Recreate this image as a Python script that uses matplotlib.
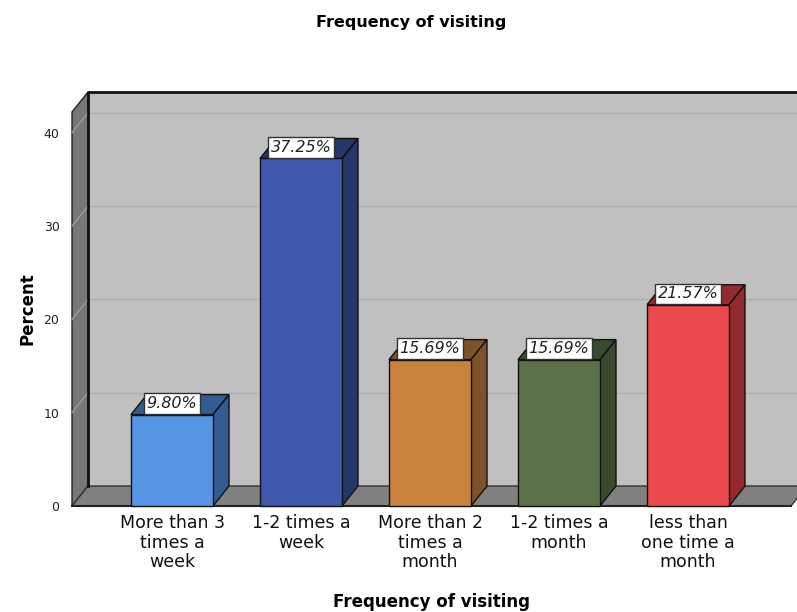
import numpy as np
import matplotlib
matplotlib.use("Agg")
import matplotlib.pyplot as plt
from matplotlib.patches import Polygon, Rectangle

categories = ["More than 3\ntimes a\nweek", "1-2 times a\nweek", "More than 2\ntimes a\nmonth",
              "1-2 times a\nmonth", "less than\none time a\nmonth"]
percent = [9.80, 37.25, 15.69, 15.69, 21.57]
front_colors = ["#5596e6", "#3e58ab", "#c8823e", "#5b7249", "#ea4a4b"]
side_colors = ["#325c92", "#253669", "#7e5229", "#394a2e", "#932b2c"]
yticks = [0, 10, 20, 30, 40]

W, H = 797, 612
fig = plt.figure(figsize=(W / 100, H / 100), dpi=100)
# front plane of the 3d box, in pixels
px_l, px_r, px_b, px_t = 72, 791, 506, 112
ax = fig.add_axes([px_l / W, 1 - px_b / H, (px_r - px_l) / W, (px_b - px_t) / H])

xstep = 129.0      # pixels between bar centers
x0px = 172.0       # first bar center
ppu = 93.3 / 10    # pixels per percent
xlo = (px_l - x0px) / xstep
xhi = (px_r - x0px) / xstep
ytop = (px_b - px_t) / ppu
ax.set_xlim(xlo, xhi)
ax.set_ylim(0, ytop)

dx = 16 / xstep
dy = 20 / ppu
bw = 82 / xstep

wall = "#c0c0c0"
side_gray = "#777777"
floor_gray = "#808080"

# back wall
ax.add_patch(Rectangle((xlo + dx, dy), xhi - xlo + 1, ytop, facecolor=wall,
                       edgecolor="none", clip_on=False, zorder=0))
# left wall
ax.add_patch(Polygon([(xlo, 0), (xlo + dx, dy), (xlo + dx, ytop + dy), (xlo, ytop)],
                     closed=True, facecolor=side_gray, edgecolor="#222222", lw=1,
                     clip_on=False, zorder=1))
# floor
ax.add_patch(Polygon([(xlo, 0), (xhi, 0), (xhi + dx, dy), (xlo + dx, dy)],
                     closed=True, facecolor=floor_gray, edgecolor="#333333", lw=1,
                     clip_on=False, zorder=1))
# back edges
ax.plot([xlo + dx, xlo + dx, xhi + 1], [dy, ytop + dy, ytop + dy], color="#111111",
        lw=2, clip_on=False, zorder=2)
ax.plot([xlo, xhi], [0, 0], color="#222222", lw=1.5, clip_on=False, zorder=2)

# grid lines on back and left wall
for t in yticks[1:]:
    ax.plot([xlo + dx, xhi + 1], [t + dy, t + dy], color="#aeaeae", lw=1,
            clip_on=False, zorder=1.5)
    ax.plot([xlo, xlo + dx], [t, t + dy], color="#9a9a9a", lw=1, clip_on=False, zorder=1.5)

# bars
xs = np.arange(len(categories))
for x, v, fc, sc in zip(xs, percent, front_colors, side_colors):
    l, r = x - bw / 2, x + bw / 2
    ax.add_patch(Polygon([(l, v), (r, v), (r + dx, v + dy), (l + dx, v + dy)], closed=True,
                         facecolor=sc, edgecolor="#111111", lw=1, clip_on=False, zorder=3))
    ax.add_patch(Polygon([(r, 0), (r + dx, dy), (r + dx, v + dy), (r, v)], closed=True,
                         facecolor=sc, edgecolor="#111111", lw=1, clip_on=False, zorder=3))
    ax.add_patch(Rectangle((l, 0), bw, v, facecolor=fc, edgecolor="#111111", lw=1,
                           clip_on=False, zorder=4))
    ax.text(x, v + 0.35, "{:.2f}%".format(v), ha="center", va="bottom", fontsize=11.5,
            style="italic", color="#222222", zorder=5,
            bbox=dict(boxstyle="square,pad=0.18", facecolor="white", edgecolor="#333333", lw=1))

for s in ax.spines.values():
    s.set_visible(False)
ax.set_yticks(yticks)
ax.set_yticklabels([str(t) for t in yticks], fontsize=9, color="#222222")
ax.set_xticks(xs)
ax.set_xticklabels(categories, fontsize=12.5, color="#111111", linespacing=1.1)
ax.tick_params(axis="both", length=0)
ax.tick_params(axis="y", pad=9)
ax.tick_params(axis="x", pad=6)

ax.set_xlabel("Frequency of visiting", fontsize=12, fontweight="bold", labelpad=16)
ax.set_ylabel("Percent", fontsize=12, fontweight="bold", labelpad=5)
fig.text(411 / W, 1 - 22 / H, "Frequency of visiting", ha="center", va="center",
         fontsize=11.5, fontweight="bold")

fig.savefig("out.png", dpi=100)
